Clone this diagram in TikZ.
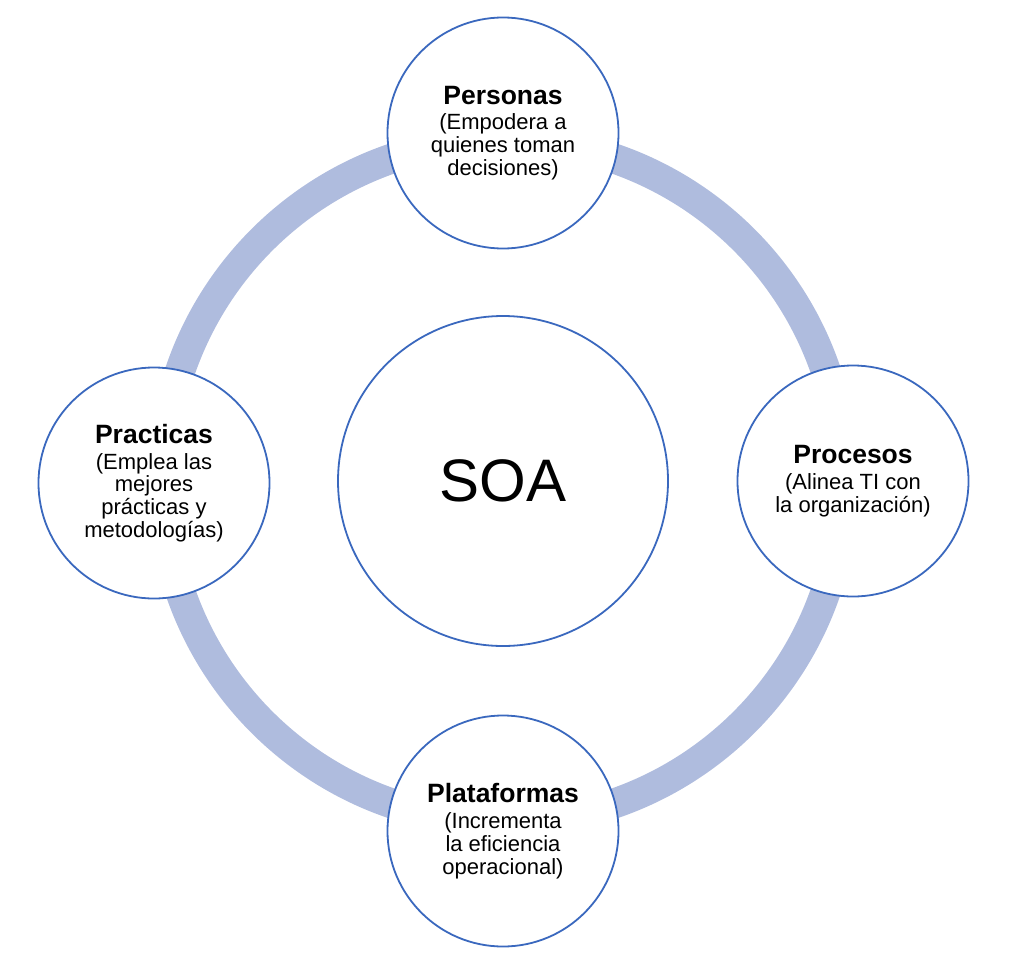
\documentclass[tikz,border=0pt]{standalone}
\usepackage{fontspec}
\setmainfont{Liberation Sans}
\definecolor{ringcol}{RGB}{175,188,222}
\definecolor{edgecol}{RGB}{58,104,190}
\begin{document}
\begin{tikzpicture}[x=1pt,y=-1pt,
  pillar/.style={circle, draw=edgecol, line width=1.8pt, fill=white,
    minimum size=231pt, inner sep=0pt, align=center,
    font=\fontsize{22}{22.8}\selectfont},
  hub/.style={circle, draw=edgecol, line width=1.8pt, fill=white,
    minimum size=330pt, inner sep=0pt, font=\fontsize{60}{60}\selectfont}]
\useasboundingbox (0,0) rectangle (1024,955);
\coordinate (ctr) at (503,481);
\draw[ringcol, line width=30pt] (ctr) circle[radius=341pt];
\node[hub] (soa) at (ctr) {SOA};
\newcommand{\hd}[1]{{\fontsize{26.5}{22.8}\selectfont\bfseries #1}}
\node[pillar] (personas) at (503,133) {\hd{Personas}\\[3pt](Empodera a\\quienes toman\\decisiones)};
\node[pillar] (procesos) at (853,481) {\hd{Procesos}\\[3pt](Alinea TI con\\la organización)};
\node[pillar] (plataformas) at (503,831) {\hd{Plataformas}\\[3pt](Incrementa\\la eficiencia\\operacional)};
\node[pillar] (practicas) at (154,483) {\hd{Practicas}\\[3pt](Emplea las\\mejores\\prácticas y\\metodologías)};
\end{tikzpicture}
\end{document}
